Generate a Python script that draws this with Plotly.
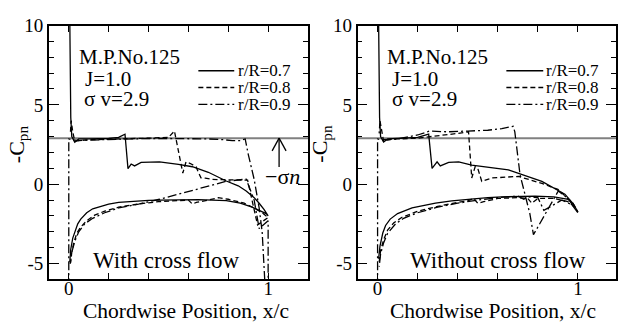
import plotly.graph_objects as go

W, H = 618, 323
FONT = "'Liberation Serif', 'Times New Roman', Times, serif"
SIGMA_N = 2.9

# ---------------- data: With cross flow (left) ----------------
L07_x = [0.005, 0.01, 0.02, 0.03, 0.045, 0.06, 0.09, 0.12, 0.16, 0.2, 0.25, 0.3, 0.35, 0.4, 0.455, 0.55, 0.65, 0.79, 0.86, 0.92, 0.96, 0.99, 1.0,
         0.98, 0.955, 0.93, 0.89, 0.85, 0.79, 0.7, 0.62, 0.55, 0.455, 0.4, 0.363, 0.33, 0.313, 0.297, 0.282, 0.25, 0.2, 0.1, 0.05, 0.03, 0.015, 0.01, 0.005]
L07_y = [-4.9, -4.1, -3.4, -3.0, -2.5, -2.2, -1.8, -1.55, -1.38, -1.25, -1.15, -1.1, -1.05, -1.02, -1.0, -0.97, -0.97, -1.04, -1.2, -1.45, -1.65, -1.85, -2.0,
         -1.6, -1.2, -0.85, -0.43, -0.1, 0.2, 0.75, 1.1, 1.25, 1.4, 1.4, 1.37, 1.15, 1.27, 0.98, 3.15, 2.95, 2.88, 2.86, 2.85, 2.65, 3.0, 4.2, 10.5]

L08_x = [0.008, 0.015, 0.025, 0.04, 0.06, 0.09, 0.13, 0.18, 0.25, 0.35, 0.45, 0.55, 0.6, 0.62, 0.64, 0.7, 0.75, 0.8, 0.88, 0.93, 0.97, 1.0,
         0.947, 0.897, 0.8, 0.72, 0.685, 0.663, 0.638, 0.61, 0.588, 0.572, 0.53, 0.5, 0.4, 0.3, 0.2, 0.1, 0.05, 0.03, 0.02, 0.012, 0.008]
L08_y = [-5.0, -4.3, -3.7, -3.1, -2.7, -2.3, -1.95, -1.7, -1.45, -1.25, -1.1, -1.05, -1.0, -1.25, -1.15, -1.0, -0.85, -0.95, -1.2, -1.5, -1.8, -2.1,
         -2.57, 0.25, 0.3, 0.3, 0.38, 0.4, 1.1, 1.3, 1.4, 0.7, 3.35, 2.95, 2.9, 2.88, 2.85, 2.8, 2.75, 2.7, 3.3, 4.0, 3.2]

L09_x = [0.0, 0.0, 0.02, 0.05, 0.1, 0.2, 0.3, 0.4, 0.5, 0.6, 0.7, 0.78, 0.82, 0.86, 0.885, 0.9, 0.93, 0.955, 0.97, 0.985, 1.0,
         1.0, 0.955, 0.93, 0.89, 0.79, 0.62, 0.455, 0.35, 0.25, 0.18, 0.12, 0.08, 0.05, 0.03, 0.015, 0.008]
L09_y = [-6.5, 2.85, 2.8, 2.75, 2.78, 2.82, 2.85, 2.88, 2.88, 2.87, 2.85, 2.8, 2.74, 2.75, 2.85, 1.9, 0.3, -1.5, -3.0, -6.5, -6.5,
         -2.3, -2.8, -1.0, 0.32, 0.18, -0.4, -0.95, -1.25, -1.5, -1.8, -2.15, -2.5, -3.0, -3.6, -4.3, -5.0]

# ---------------- data: Without cross flow (right) ----------------
R07_x = [0.005, 0.012, 0.026, 0.04, 0.063, 0.1, 0.172, 0.289, 0.37, 0.454, 0.55, 0.62, 0.786, 0.88, 0.952, 0.98, 1.0,
         0.977, 0.935, 0.82, 0.653, 0.47, 0.405, 0.355, 0.313, 0.297, 0.272, 0.255, 0.2, 0.1, 0.05, 0.03, 0.015, 0.01, 0.005]
R07_y = [-4.7, -3.9, -3.08, -2.6, -2.2, -1.85, -1.5, -1.2, -1.05, -0.94, -0.85, -0.8, -0.75, -0.8, -0.95, -1.3, -1.75,
         -1.24, -0.63, 0.18, 0.9, 1.2, 1.41, 1.37, 1.15, 1.41, 1.0, 3.15, 2.95, 2.88, 2.85, 2.65, 3.0, 4.2, 10.5]

R08_x = [0.008, 0.015, 0.03, 0.05, 0.08, 0.12, 0.2, 0.3, 0.4, 0.45, 0.48, 0.5, 0.53, 0.6, 0.7, 0.75, 0.77, 0.8, 0.88, 0.95, 0.98, 1.0,
         0.975, 0.9, 0.82, 0.703, 0.57, 0.52, 0.5, 0.487, 0.47, 0.454, 0.4, 0.3, 0.25, 0.2, 0.1, 0.05, 0.03, 0.02, 0.012, 0.008]
R08_y = [-4.9, -4.2, -3.5, -2.9, -2.45, -2.1, -1.7, -1.4, -1.15, -1.05, -0.9, -1.2, -1.1, -0.9, -0.85, -0.9, -1.2, -0.9, -0.9, -1.1, -1.4, -1.75,
         -1.2, -0.33, 0.05, 0.49, 0.39, 0.18, 1.0, 1.1, 0.39, 3.3, 3.2, 3.05, 2.95, 2.9, 2.85, 2.8, 2.7, 3.3, 4.0, 3.2]

R09_x = [0.0, 0.0, 0.02, 0.05, 0.1, 0.2, 0.26, 0.35, 0.45, 0.55, 0.62, 0.677, 0.685, 0.711, 0.76, 0.778, 0.8, 0.902, 0.95, 0.985, 1.0,
         0.97, 0.92, 0.86, 0.83, 0.8, 0.75, 0.73, 0.7, 0.6, 0.5, 0.4, 0.3, 0.2, 0.13, 0.09, 0.05, 0.03, 0.015, 0.008]
R09_y = [-6.5, 2.85, 2.8, 2.8, 2.85, 3.1, 3.35, 3.3, 3.35, 3.4, 3.5, 3.65, 3.3, 0.6, -1.86, -3.18, -2.7, -0.43, -0.9, -1.5, -1.8,
         -1.3, -1.0, -1.45, -1.65, -0.85, -0.8, -0.95, -0.75, -0.85, -1.0, -1.2, -1.45, -1.8, -2.15, -2.5, -3.1, -3.7, -4.4, -5.2]

SERIES_NAMES = ["r/R=0.7", "r/R=0.8", "r/R=0.9"]
DASHES = ["solid", "5px,3px", "9px,3px,2px,3px"]
PANEL_TITLES = ["With cross flow", "Without cross flow"]
INFO_LINES = ["M.P.No.125", "J=1.0", "σ v=2.9"]
X_TICKS = [0, 1]
X_MINOR = [0.2, 0.4, 0.6, 0.8]
Y_TICKS = [-5, 0, 5, 10]

def fx(p):
    return p / W

def fy(p):
    return 1 - p / H

fig = go.Figure()
panels = [
    ("x", "y", [(L07_x, L07_y), (L08_x, L08_y), (L09_x, L09_y)]),
    ("x2", "y2", [(R07_x, R07_y), (R08_x, R08_y), (R09_x, R09_y)]),
]
for xa, ya, series in panels:
    for (sx, sy), dash, name in zip(series, DASHES, SERIES_NAMES):
        fig.add_trace(go.Scatter(x=sx, y=sy, mode="lines", name=name, xaxis=xa, yaxis=ya,
                                 line=dict(color="black", width=1.3, dash=dash), showlegend=False))

y_top, y_bot = 16, 278
dom_y = [fy(y_bot), fy(y_top)]
axis_common = dict(showline=True, linecolor="black", linewidth=1.5, mirror="ticks", showgrid=False,
                   zeroline=False, ticks="inside", tickcolor="black", tickwidth=1.3,
                   tickfont=dict(family=FONT, size=19, color="black"))
xcommon = dict(axis_common, tickmode="array", tickvals=X_TICKS, ticktext=[str(v) for v in X_TICKS], ticklen=7,
               ticklabelstandoff=-9,
               minor=dict(tickmode="array", tickvals=X_MINOR, ticks="inside", ticklen=7, tickcolor="black", tickwidth=1.3))
ycommon = dict(axis_common, range=[-6, 10], tickmode="array", tickvals=Y_TICKS, ticktext=[str(v) for v in Y_TICKS], ticklen=10,
               minor=dict(tick0=0, dtick=1, ticks="inside", ticklen=5, tickcolor="black", tickwidth=1.3))

fig.update_layout(
    width=W, height=H, margin=dict(l=0, r=0, t=0, b=0),
    paper_bgcolor="white", plot_bgcolor="white",
    font=dict(family=FONT, color="black"),
    xaxis=dict(xcommon, domain=[fx(49), fx(309)], range=[-0.1, 1.2], anchor="y"),
    yaxis=dict(ycommon, domain=dom_y, anchor="x"),
    xaxis2=dict(xcommon, domain=[fx(358.7), 1.0], range=[-0.1, 1.19], anchor="y2"),
    yaxis2=dict(ycommon, domain=dom_y, anchor="x2"),
)

shapes = []
annotations = []
# sigma_n lines
for xr, yr in [("x", "y"), ("x2", "y2")]:
    shapes.append(dict(type="line", xref=f"{xr} domain", x0=0, x1=1, yref=yr, y0=SIGMA_N, y1=SIGMA_N,
                       line=dict(color="#808080", width=2), layer="below"))

# arrow for -sigma_n (left panel)
ax_x = 1.055
shapes.append(dict(type="line", xref="x", yref="y", x0=ax_x, x1=ax_x, y0=1.08, y1=SIGMA_N, line=dict(color="black", width=1.3)))
shapes.append(dict(type="line", xref="x", yref="y", x0=ax_x - 0.035, x1=ax_x, y0=SIGMA_N - 0.8, y1=SIGMA_N, line=dict(color="black", width=1.3)))
shapes.append(dict(type="line", xref="x", yref="y", x0=ax_x + 0.035, x1=ax_x, y0=SIGMA_N - 0.8, y1=SIGMA_N, line=dict(color="black", width=1.3)))
annotations.append(dict(text="−σ<i>n</i>", xref="paper", yref="paper", x=fx(283), y=fy(172),
                        xanchor="center", yanchor="middle", showarrow=False, font=dict(family=FONT, size=22)))

# per-panel texts
panel_px = [
    dict(info_left=[77, 83, 82], leg_x0=199, leg_x1=235, leg_tx=237, title_cx=166.5, xt_cx=187, yt_cx=17.5),
    dict(info_left=[386, 391, 391], leg_x0=508, leg_x1=545, leg_tx=546, title_cx=499.5, xt_cx=495, yt_cx=322),
]
info_y = [48, 71, 91.5]
leg_y = [62.7, 80, 97.3]
for p, title in zip(panel_px, PANEL_TITLES):
    for txt, lx, ly in zip(INFO_LINES, p["info_left"], info_y):
        annotations.append(dict(text=txt, xref="paper", yref="paper", x=fx(lx), y=fy(ly), xanchor="left", yanchor="middle",
                                showarrow=False, font=dict(family=FONT, size=21)))
    for name, dash, ly in zip(SERIES_NAMES, DASHES, leg_y):
        shapes.append(dict(type="line", xref="paper", yref="paper", x0=fx(p["leg_x0"]), x1=fx(p["leg_x1"]),
                           y0=fy(ly), y1=fy(ly), line=dict(color="black", width=1.3, dash=dash)))
        annotations.append(dict(text=name, xref="paper", yref="paper", x=fx(p["leg_tx"]), y=fy(ly), xanchor="left",
                                yanchor="middle", showarrow=False, font=dict(family=FONT, size=17)))
    annotations.append(dict(text=title, xref="paper", yref="paper", x=fx(p["title_cx"]), y=fy(258), xanchor="center",
                            yanchor="middle", showarrow=False, font=dict(family=FONT, size=23)))
    annotations.append(dict(text="Chordwise Position, x/c", xref="paper", yref="paper", x=fx(p["xt_cx"]), y=fy(311),
                            xanchor="center", yanchor="middle", showarrow=False, font=dict(family=FONT, size=21.5)))
    annotations.append(dict(text="-C<sub>pn</sub>", xref="paper", yref="paper", x=fx(p["yt_cx"]), y=fy(138),
                            xanchor="center", yanchor="middle", textangle=-90, showarrow=False,
                            font=dict(family=FONT, size=22)))

fig.update_layout(shapes=shapes, annotations=annotations)
fig.write_html("out.html")
